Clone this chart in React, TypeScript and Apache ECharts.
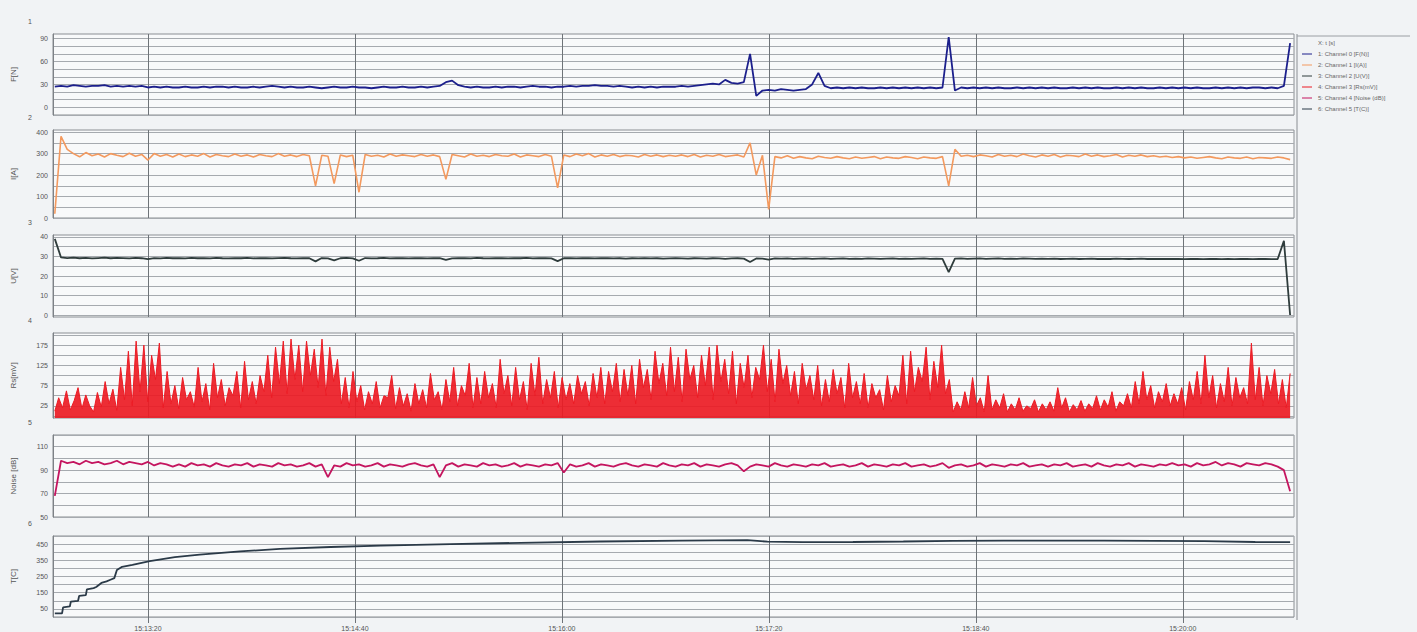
import React, { useEffect, useRef } from "react";
import * as echarts from "echarts";

// ---- time axis (seconds after 15:12:00) ----
const X_MIN = 43.3;
const X_MAX = 523;
const T_START = 44;
const T_END = 521.5;
const X_TICKS = [80, 160, 240, 320, 400, 480];

// ---- panel labels ----
const PANEL_NUMBERS = ["1", "2", "3", "4", "5", "6"];
const AXIS_NAMES = ["F[N]", "I[A]", "U[V]", "Rs[mV]", "Noise [dB]", "T[C]"];
const LEGEND_ITEMS = [
  "X: t [s]",
  "1: Channel 0 [F(N)]",
  "2: Channel 1 [I(A)]",
  "3: Channel 2 [U(V)]",
  "4: Channel 3 [Rs(mV)]",
  "5: Channel 4 [Noise (dB)]",
  "6: Channel 5 [T(C)]",
];

// ---- y axis ranges, grid values, label values ----
const Y_MIN = [-10, 0, -1, -5, 50, 0];
const Y_MAX = [96, 410, 41, 205, 120, 500];
const Y_LABELS = [
  [0, 30, 60, 90],
  [0, 100, 200, 300, 400],
  [0, 10, 20, 30, 40],
  [25, 75, 125, 175],
  [50, 70, 90, 110],
  [50, 150, 250, 350, 450],
];
const Y_GRID = [
  [-10, 0, 10, 20, 30, 40, 50, 60, 70, 80, 90],
  [0, 50, 100, 150, 200, 250, 300, 350, 400],
  [0, 5, 10, 15, 20, 25, 30, 35, 40],
  [0, 25, 50, 75, 100, 125, 150, 175, 200],
  [50, 60, 70, 80, 90, 100, 110, 120],
  [0, 50, 100, 150, 200, 250, 300, 350, 400, 450, 500],
];

// ---- series values ----
const FORCE = [
  27, 28, 27, 29, 28, 27, 28, 28, 29, 27, 28, 27, 28, 27, 28, 26, 27, 26, 27, 26,
  26, 27, 26, 26, 27, 26, 27, 27, 26, 27, 26, 26, 27, 26, 27, 28, 27, 26, 27, 26,
  26, 27, 26, 25, 26, 27, 26, 26, 27, 26, 26, 25, 26, 27, 26, 26, 27, 26, 26, 27,
  26, 27, 28, 33, 35, 29, 27, 26, 27, 26, 26, 27, 26, 27, 27, 26, 27, 28, 27, 27,
  26, 27, 27, 28, 27, 28, 28, 29, 28, 28, 27, 28, 27, 26, 27, 26, 27, 26, 27, 27,
  27, 28, 27, 28, 29, 30, 31, 30, 36, 32, 31, 33, 70, 15, 22, 23, 22, 24, 23, 22,
  23, 24, 30, 45, 28, 25, 26, 25, 26, 25, 26, 25, 25, 26, 25, 26, 25, 26, 25, 26,
  25, 26, 25, 26, 92, 22, 26, 25, 26, 25, 26, 25, 26, 25, 25, 26, 25, 26, 25, 26,
  25, 26, 25, 25, 26, 25, 26, 25, 26, 25, 25, 26, 25, 26, 25, 26, 25, 25, 26, 25,
  26, 25, 26, 25, 26, 25, 25, 26, 25, 26, 25, 26, 25, 26, 26, 25, 26, 25, 28, 84,
];

const CURRENT = [
  20, 380, 320, 300, 285, 305, 290, 298, 284, 300, 292, 286, 302, 288, 296, 270, 300, 288, 296, 284,
  298, 286, 294, 288, 300, 284, 296, 290, 286, 298, 288, 294, 284, 296, 290, 286, 300, 288, 294, 286,
  296, 290, 150, 292, 288, 160, 294, 286, 292, 120, 296, 288, 292, 284, 298, 288, 294, 290, 286, 296,
  288, 294, 286, 180, 296, 290, 284, 298, 288, 292, 286, 296, 290, 288, 298, 284, 294, 290, 286, 296,
  288, 140, 294, 286, 298, 290, 300, 284, 294, 288, 296, 286, 292, 290, 284, 296, 288, 294, 286, 292,
  288, 294, 286, 296, 284, 292, 288, 296, 286, 290, 294, 284, 350, 200, 292, 40, 286, 280, 290, 278,
  286, 280, 276, 288, 282, 278, 286, 280, 276, 284, 278, 282, 286, 276, 284, 280, 278, 286, 282, 276,
  284, 280, 278, 286, 150, 320, 288, 292, 286, 294, 290, 284, 296, 288, 292, 286, 298, 290, 284, 294,
  288, 296, 284, 292, 290, 286, 298, 288, 294, 286, 290, 296, 284, 292, 288, 294, 286, 290, 284, 288,
  282, 286, 280, 284, 278, 282, 286, 280, 276, 284, 280, 278, 284, 276, 282, 280, 278, 284, 280, 272,
];

const VOLTAGE = [
  39, 29.5, 29.2, 29.4, 29.1, 29.3, 29, 29.2, 29.4, 29.1, 29.3, 29.2, 29, 29.3, 29.1, 28.6, 29.2, 29, 29.3, 29.1,
  29.2, 29, 29.3, 29.1, 29.2, 29, 29.3, 29.1, 29, 29.2, 29.1, 29.3, 29, 29.2, 29.1, 29, 29.2, 29.3, 29.1, 29,
  29.2, 29.1, 27.5, 29.2, 29, 28, 29.1, 29.3, 29, 27.8, 29.2, 29, 29.1, 29.3, 29, 29.2, 29.1, 29, 29.2, 29.1,
  29, 29.2, 29.1, 28.2, 29, 29.2, 29.1, 29, 29.3, 29.1, 29, 29.2, 29.1, 29, 29.2, 29.1, 29.3, 29, 29.1, 29.2,
  29, 27.6, 29.1, 29.2, 29, 29.1, 29.2, 29, 29.1, 29.2, 29, 29.1, 28.9, 29.1, 29, 29.2, 29, 29.1, 28.9, 29,
  29.1, 29, 28.9, 29.1, 29, 28.9, 29.1, 29, 28.8, 29, 29.1, 28.9, 27.2, 29, 28.9, 28.4, 29, 28.9, 29, 28.8,
  28.9, 29, 28.8, 28.9, 29, 28.8, 28.9, 29, 28.8, 28.9, 28.8, 29, 28.9, 28.8, 28.9, 29, 28.8, 28.9, 28.8, 28.9,
  29, 28.8, 28.9, 28.8, 22, 28.9, 29, 28.8, 28.9, 29, 28.8, 28.9, 29, 28.8, 28.9, 28.8, 29, 28.9, 28.8, 28.9,
  28.8, 28.9, 28.7, 28.8, 28.9, 28.7, 28.8, 28.9, 28.7, 28.8, 28.7, 28.9, 28.8, 28.7, 28.8, 28.9, 28.7, 28.8, 28.7, 28.8,
  28.7, 28.8, 28.6, 28.7, 28.8, 28.6, 28.7, 28.8, 28.6, 28.7, 28.6, 28.8, 28.7, 28.6, 28.7, 28.8, 28.6, 28.7, 38, 0,
];

const RS = [
  12, 45, 20, 62, 15, 38, 70, 18, 52, 25,
  10, 58, 22, 85, 30, 66, 14, 120, 40, 160,
  25, 185, 60, 175, 35, 150, 90, 180, 20, 110,
  30, 75, 18, 95, 40, 60, 22, 120, 35, 80,
  15, 130, 45, 90, 25, 70, 50, 110, 20, 135,
  40, 85, 30, 100, 60, 150, 45, 170, 80, 185,
  55, 190, 90, 175, 60, 185, 100, 165, 70, 190,
  50, 170, 85, 140, 30, 95, 20, 110, 35, 75,
  15, 60, 30, 85, 20, 50, 45, 100, 18, 70,
  25, 55, 12, 80, 30, 65, 20, 105, 40, 60,
  15, 90, 35, 120, 25, 75, 50, 130, 20, 95,
  30, 110, 45, 80, 20, 140, 55, 100, 25, 120,
  40, 85, 15, 130, 50, 145, 30, 90, 45, 110,
  20, 95, 40, 80, 30, 100, 55, 85, 25, 105,
  45, 120, 30, 110, 60, 130, 35, 115, 50, 125,
  30, 140, 70, 115, 40, 160, 80, 130, 50, 170,
  60, 145, 35, 165, 90, 125, 45, 150, 75, 170,
  40, 175, 85, 140, 55, 160, 30, 130, 70, 150,
  45, 120, 90, 175, 60, 140, 35, 165, 80, 125,
  50, 110, 30, 130, 65, 100, 40, 125, 25, 90,
  35, 115, 55, 95, 20, 130, 45, 85, 30, 105,
  20, 80, 45, 65, 15, 100, 35, 75, 50, 150,
  30, 160, 60, 120, 85, 170, 40, 135, 70, 175,
  55, 90, 10, 35, 15, 60, 20, 95, 25, 45,
  10, 100, 15, 40, 20, 55, 10, 30, 15, 45,
  12, 25, 18, 40, 10, 30, 15, 35, 12, 70,
  20, 45, 10, 28, 15, 38, 12, 30, 18, 50,
  15, 40, 22, 60, 12, 35, 25, 55, 20, 85,
  30, 110, 40, 75, 20, 60, 35, 80, 25, 55,
  30, 70, 15, 85, 40, 110, 30, 150, 45, 100,
  20, 80, 35, 120, 25, 95, 45, 70, 30, 180,
  40, 120, 25, 100, 55, 115, 30, 90, 20, 105,
];

const NOISE = [
  68, 98, 96, 97, 95, 98, 96, 97, 95, 96, 98, 95, 97, 96, 95, 97, 94, 96, 95, 93,
  95, 93, 96, 94, 95, 93, 96, 94, 93, 95, 94, 96, 93, 95, 94, 93, 96, 94, 95, 93,
  94, 96, 93, 95, 84, 94, 93, 96, 94, 95, 93, 94, 96, 93, 95, 94, 93, 95, 96, 94,
  93, 95, 84, 94, 96, 93, 95, 94, 93, 96, 94, 95, 93, 94, 96, 93, 95, 94, 93, 95,
  94, 96, 88, 95, 93, 94, 96, 93, 95, 94, 93, 95, 96, 94, 93, 95, 94, 93, 96, 94,
  93, 95, 94, 96, 93, 95, 94, 93, 95, 96, 94, 89, 93, 95, 94, 93, 96, 94, 93, 95,
  94, 93, 95, 94, 96, 93, 94, 95, 93, 94, 96, 93, 95, 94, 93, 95, 94, 96, 93, 94,
  95, 93, 94, 96, 92, 94, 95, 93, 94, 96, 93, 95, 94, 93, 95, 94, 96, 93, 94, 95,
  93, 95, 94, 96, 93, 94, 95, 93, 96, 94, 93, 95, 94, 96, 93, 95, 94, 93, 95, 94,
  96, 94, 95, 93, 96, 94, 95, 97, 94, 96, 95, 93, 96, 95, 94, 96, 95, 93, 90, 72,
];

const TEMP_TIMES = [
  44, 46.8, 47.2, 49.8, 50.2, 53.0, 53.4, 56.0, 56.4, 59.0, 60.0, 62.0, 64.0, 65.5,
  67.0, 68.0, 70.0, 74.0, 80.7, 90.4, 100, 115.6, 131, 150.6, 170, 197, 224, 255,
  286.5, 311.7, 319.5, 333, 352.5, 372, 391, 410.8, 449.6, 488.4, 508, 521.5,
];
const TEMP_VALUES = [
  22, 22, 60, 65, 95, 100, 130, 135, 170, 178, 185, 210, 220, 230,
  240, 290, 310, 322, 345, 370, 385, 405, 420, 432, 440, 450, 458, 466,
  472, 475, 465, 462, 463, 466, 470, 472, 472, 468, 463, 462,
];

const COLORS = ["#1c1f8c", "#f3995e", "#2f3c3c", "#ec1b24", "#c4155f", "#2b3a48"];

const GRID_TOP = [34, 130, 235, 333, 435, 536];
const GRID_HEIGHT = [81, 88, 82, 85, 82, 83];

function fmtTime(v: number) {
  const total = 15 * 3600 + 12 * 60 + Math.round(v);
  const h = Math.floor(total / 3600);
  const m = Math.floor((total % 3600) / 60);
  const s = total % 60;
  const p = (n: number) => (n < 10 ? "0" + n : "" + n);
  return `${h}:${p(m)}:${p(s)}`;
}

function uniform(arr: number[]) {
  const step = (T_END - T_START) / (arr.length - 1);
  return arr.map((v, k) => [T_START + k * step, v]);
}

export default function App() {
  const ref = useRef<HTMLDivElement>(null);

  useEffect(() => {
    document.body.style.margin = "0";
    document.body.style.background = "#f1f3f5";
    if (!ref.current) return;
    const chart = echarts.init(ref.current, undefined, { renderer: "svg" });

    const seriesData = [
      uniform(FORCE),
      uniform(CURRENT),
      uniform(VOLTAGE),
      uniform(RS),
      uniform(NOISE),
      TEMP_TIMES.map((t, k) => [t, TEMP_VALUES[k]]),
    ];

    const grids = GRID_TOP.map((top, i) => ({
      left: 53,
      width: 1241,
      top,
      height: GRID_HEIGHT[i],
      show: true,
      backgroundColor: "#f8f9fa",
      borderColor: "#8a8e93",
      borderWidth: 1,
    }));

    const xAxes = GRID_TOP.map((_, i) => ({
      gridIndex: i,
      type: "value",
      min: X_MIN,
      max: X_MAX,
      axisLine: { show: false },
      axisTick: {
        show: i === 5,
        customValues: X_TICKS,
        length: 6,
        lineStyle: { color: "#6e7378" },
      },
      axisLabel: {
        show: i === 5,
        customValues: X_TICKS,
        formatter: (v: number) => fmtTime(v),
        fontSize: 7,
        color: "#555",
        margin: 8,
      },
      splitLine: { show: true, lineStyle: { color: "#6e7378", width: 1 } },
    }));

    const yAxes = GRID_TOP.map((_, i) => ({
      gridIndex: i,
      type: "value",
      min: Y_MIN[i],
      max: Y_MAX[i],
      name: AXIS_NAMES[i],
      nameLocation: "middle",
      nameRotate: 90,
      nameGap: 36,
      nameTextStyle: { fontSize: 8, color: "#555" },
      axisLine: { show: true, lineStyle: { color: "#7d8186" } },
      axisTick: { show: false, customValues: Y_GRID[i] },
      axisLabel: {
        customValues: Y_LABELS[i],
        fontSize: 7,
        color: "#555",
        margin: 5,
      },
      splitLine: { show: true, lineStyle: { color: "#a6aaaf", width: 1 } },
    }));

    const series = seriesData.map((data, i) => ({
      type: "line",
      xAxisIndex: i,
      yAxisIndex: i,
      data,
      showSymbol: false,
      symbol: "none",
      silent: true,
      lineStyle: { color: COLORS[i], width: i === 3 ? 1 : i === 1 ? 1.6 : 1.8 },
      areaStyle: i === 3 ? { color: COLORS[i], opacity: 0.92, origin: "start" } : undefined,
      z: 3,
    }));

    const graphic: any[] = [];
    PANEL_NUMBERS.forEach((n, i) => {
      graphic.push({
        type: "text",
        left: 28,
        top: GRID_TOP[i] - 16,
        style: { text: n, fontSize: 7, fill: "#555" },
      });
    });
    graphic.push({
      type: "line",
      shape: { x1: 1297, y1: 34, x2: 1297, y2: 620 },
      style: { stroke: "#8a8e93", lineWidth: 1 },
    });
    graphic.push({
      type: "line",
      shape: { x1: 1297, y1: 36, x2: 1410, y2: 36 },
      style: { stroke: "#9a9ea3", lineWidth: 1 },
    });
    LEGEND_ITEMS.forEach((t, k) => {
      const y = 43 + k * 11;
      if (k > 0) {
        graphic.push({
          type: "line",
          shape: { x1: 1302, y1: y, x2: 1312, y2: y },
          style: { stroke: COLORS[k - 1], lineWidth: 1 },
        });
      }
      graphic.push({
        type: "text",
        x: 1318,
        y,
        style: { text: t, fontSize: 6, fill: "#666", verticalAlign: "middle" },
      });
    });

    chart.setOption({
      animation: false,
      backgroundColor: "#f1f3f5",
      textStyle: { fontFamily: "Liberation Sans, Arial, sans-serif" },
      grid: grids,
      xAxis: xAxes,
      yAxis: yAxes,
      series,
      graphic,
    } as any);

    return () => chart.dispose();
  }, []);

  return <div ref={ref} style={{ width: 1417, height: 632 }} />;
}
